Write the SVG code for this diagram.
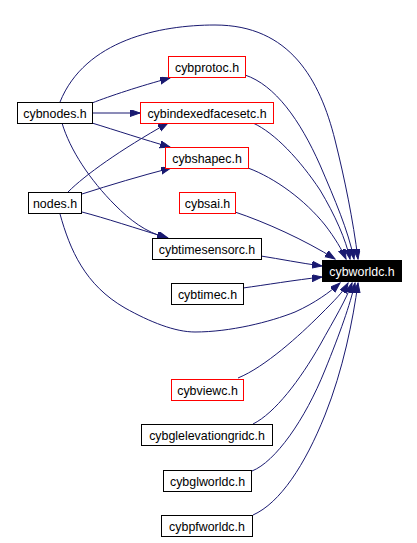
<svg xmlns="http://www.w3.org/2000/svg" width="417" height="543" viewBox="0 0 417 543">
<style>
.n rect{fill:#fff;stroke:#000;stroke-width:1}
.n.r rect{stroke:#f00}
.n text{font-family:"Liberation Sans",Arial,sans-serif;font-size:12.4px;text-anchor:middle;fill:#000}
.n.root rect{fill:#000;stroke:#000}
.n.root text{fill:#fff}
.e path{fill:none;stroke:#191970;stroke-width:1;marker-end:url(#ah)}
</style>
<defs>
<marker id="ah" markerUnits="userSpaceOnUse" markerWidth="11" markerHeight="8" refX="10" refY="3.5" orient="auto">
<path d="M0,0 L10,3.5 L0,7 z" fill="#191970" stroke="#191970" stroke-width="1"/>
</marker>
</defs>
<rect width="417" height="543" fill="#fff"/>
<g id="connectors" class="e">
<path d="M60,102 C85,40 160,25 215,25 C290,25 320,80 335,140 C345,180 353,220 358,259"/>
<path d="M92,103 C110,96 140,86 170,78"/>
<path d="M92,113 L140,113"/>
<path d="M92,123 C115,130 145,140 170,147"/>
<path d="M62,123 C70,150 90,180 115,205 C130,220 145,232 167,238"/>
<path d="M68,192 C85,175 120,150 168,123"/>
<path d="M82,194 C110,185 140,176 171,168"/>
<path d="M82,212 C105,218 135,228 168,238"/>
<path d="M60,214 C70,250 85,285 125,308 C150,322 175,332 195,332 C230,332 270,322 295,312 C315,303 330,292 340,283"/>
<path d="M245,75 C275,85 300,120 320,165 C335,200 348,230 354,259"/>
<path d="M253,123 C275,133 300,160 320,190 C335,215 346,240 350,259"/>
<path d="M248,168 C275,178 305,200 325,225 C335,238 342,250 346,259"/>
<path d="M235,212 C265,222 305,240 335,259"/>
<path d="M261,256 C280,259 300,263 322,266"/>
<path d="M243,288 C265,285 295,280 322,277"/>
<path d="M238,378 C265,367 300,335 320,315 C335,300 343,292 348,283"/>
<path d="M253,424 C275,413 300,380 320,345 C335,318 346,300 352,283"/>
<path d="M252,471 C275,462 305,420 325,370 C340,333 350,305 355,283"/>
<path d="M253,515 C280,503 305,465 325,415 C343,370 353,320 358,283"/>
</g>
<g id="cybnodes" class="n"><rect x="17.5" y="102.5" width="75" height="21"/><text x="55" y="117.5">cybnodes.h</text></g>
<g id="cybprotoc" class="n r"><rect x="168.5" y="56.5" width="77" height="21"/><text x="207" y="71.5">cybprotoc.h</text></g>
<g id="cybindexedfacesetc" class="n r"><rect x="140.5" y="102.5" width="133" height="21"/><text x="207" y="117.5">cybindexedfacesetc.h</text></g>
<g id="cybshapec" class="n r"><rect x="165.5" y="147.5" width="83" height="21"/><text x="207" y="162.5">cybshapec.h</text></g>
<g id="cybsai" class="n r"><rect x="179.5" y="192.5" width="56" height="21"/><text x="207.5" y="207.5">cybsai.h</text></g>
<g id="nodes" class="n"><rect x="28.5" y="192.5" width="53" height="21"/><text x="55" y="207.5">nodes.h</text></g>
<g id="cybtimesensorc" class="n"><rect x="152.5" y="238.5" width="109" height="21"/><text x="207" y="253.5">cybtimesensorc.h</text></g>
<g id="cybworldc" class="n root"><rect x="322.5" y="260.5" width="79" height="21"/><text x="362" y="275.5">cybworldc.h</text></g>
<g id="cybtimec" class="n"><rect x="171.5" y="283.5" width="72" height="21"/><text x="207.5" y="298.5">cybtimec.h</text></g>
<g id="cybviewc" class="n r"><rect x="171.5" y="379.5" width="72" height="21"/><text x="207.5" y="394.5">cybviewc.h</text></g>
<g id="cybglelevationgridc" class="n"><rect x="141.5" y="424.5" width="131" height="21"/><text x="207" y="439.5">cybglelevationgridc.h</text></g>
<g id="cybglworldc" class="n"><rect x="163.5" y="470.5" width="88" height="21"/><text x="207.5" y="485.5">cybglworldc.h</text></g>
<g id="cybpfworldc" class="n"><rect x="161.5" y="515.5" width="91" height="21"/><text x="207" y="530.5">cybpfworldc.h</text></g>
</svg>
